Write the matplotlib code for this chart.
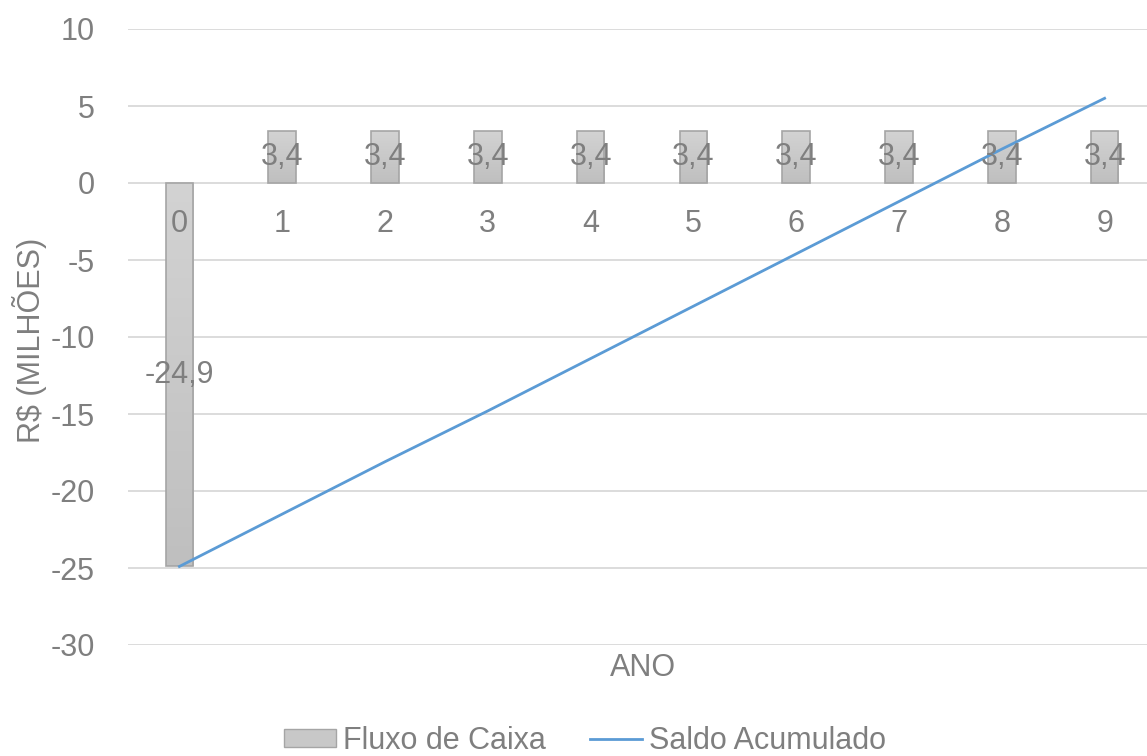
import numpy as np
import matplotlib.pyplot as plt
from matplotlib.patches import Patch
from matplotlib.lines import Line2D
from matplotlib.colors import LinearSegmentedColormap

plt.rcParams['font.family'] = ['Liberation Sans', 'DejaVu Sans']

anos = [0, 1, 2, 3, 4, 5, 6, 7, 8, 9]
fluxo_caixa = [-24.9, 3.4, 3.4, 3.4, 3.4, 3.4, 3.4, 3.4, 3.4, 3.4]
saldo_acumulado = [-24.9, -21.5, -18.1, -14.8, -11.4, -8.0, -4.6, -1.2, 2.2, 5.5]
y_ticks = [-30, -25, -20, -15, -10, -5, 0, 5, 10]

text_color = '#7F7F7F'
grid_color = '#D9D9D9'
edge_color = '#A5A5A5'
line_color = '#5B9BD5'

fig = plt.figure(figsize=(11.47, 7.56), dpi=100)
ax = fig.add_axes([128 / 1147, 111 / 756, 1028 / 1147, 616 / 756])

for t in y_ticks:
    ax.axhline(t, color=grid_color, linewidth=1.3, zorder=0)

bars = ax.bar(anos, fluxo_caixa, width=0.27, color='none',
              edgecolor=edge_color, linewidth=1.2, zorder=1.2)

# light-to-dark grey gradient inside each bar
grad_cmap = LinearSegmentedColormap.from_list('cinza', ['#BFBFBF', '#D3D3D3'])
grad = np.linspace(0, 1, 256).reshape(-1, 1)
for b in bars:
    x0, y0 = b.get_x(), b.get_y()
    w, h = b.get_width(), b.get_height()
    lo, hi = min(y0, y0 + h), max(y0, y0 + h)
    im = ax.imshow(grad, cmap=grad_cmap, aspect='auto', origin='lower',
                   extent=[x0, x0 + w, lo, hi], zorder=1.1)
    im.set_clip_path(b)

ax.plot(anos, saldo_acumulado, color=line_color, linewidth=2.0, zorder=3)

# data labels centred in each bar
for x, v in zip(anos, fluxo_caixa):
    ax.text(x, v / 2, f'{v:.1f}'.replace('.', ','), ha='center', va='center',
            fontsize=22, color=text_color, zorder=4)

ax.set_xlim(-0.5, 9.5)
ax.set_ylim(-30, 10)
ax.set_yticks(y_ticks)
ax.set_yticklabels([str(t) for t in y_ticks])
ax.set_xticks(anos)
ax.set_xticklabels([str(a) for a in anos])
ax.xaxis.set_zorder(5)
ax.spines['bottom'].set_position(('data', 0))
for s in ax.spines.values():
    s.set_visible(False)
ax.tick_params(axis='y', length=0, pad=24, labelsize=22, labelcolor=text_color)
ax.tick_params(axis='x', length=0, pad=19, labelsize=22, labelcolor=text_color)

fig.text(30 / 1147, 1 - 340 / 756, 'R$ (MILHÕES)', rotation=90, ha='center',
         va='center', fontsize=22, color=text_color)
fig.text(643 / 1147, 1 - 668 / 756, 'ANO', ha='center', va='center',
         fontsize=22, color=text_color)

handles = [Patch(facecolor='#C8C8C8', edgecolor=edge_color),
           Line2D([0], [0], color=line_color, linewidth=2.0)]
fig.legend(handles, ['Fluxo de Caixa', 'Saldo Acumulado'], loc='center',
           bbox_to_anchor=(585 / 1147, 1 - 741 / 756), ncol=2, frameon=False,
           fontsize=22, labelcolor=text_color, handlelength=1.7, handleheight=0.5,
           handletextpad=0.23, columnspacing=1.45, borderpad=0.2)

fig.savefig('out.png', dpi=100)
